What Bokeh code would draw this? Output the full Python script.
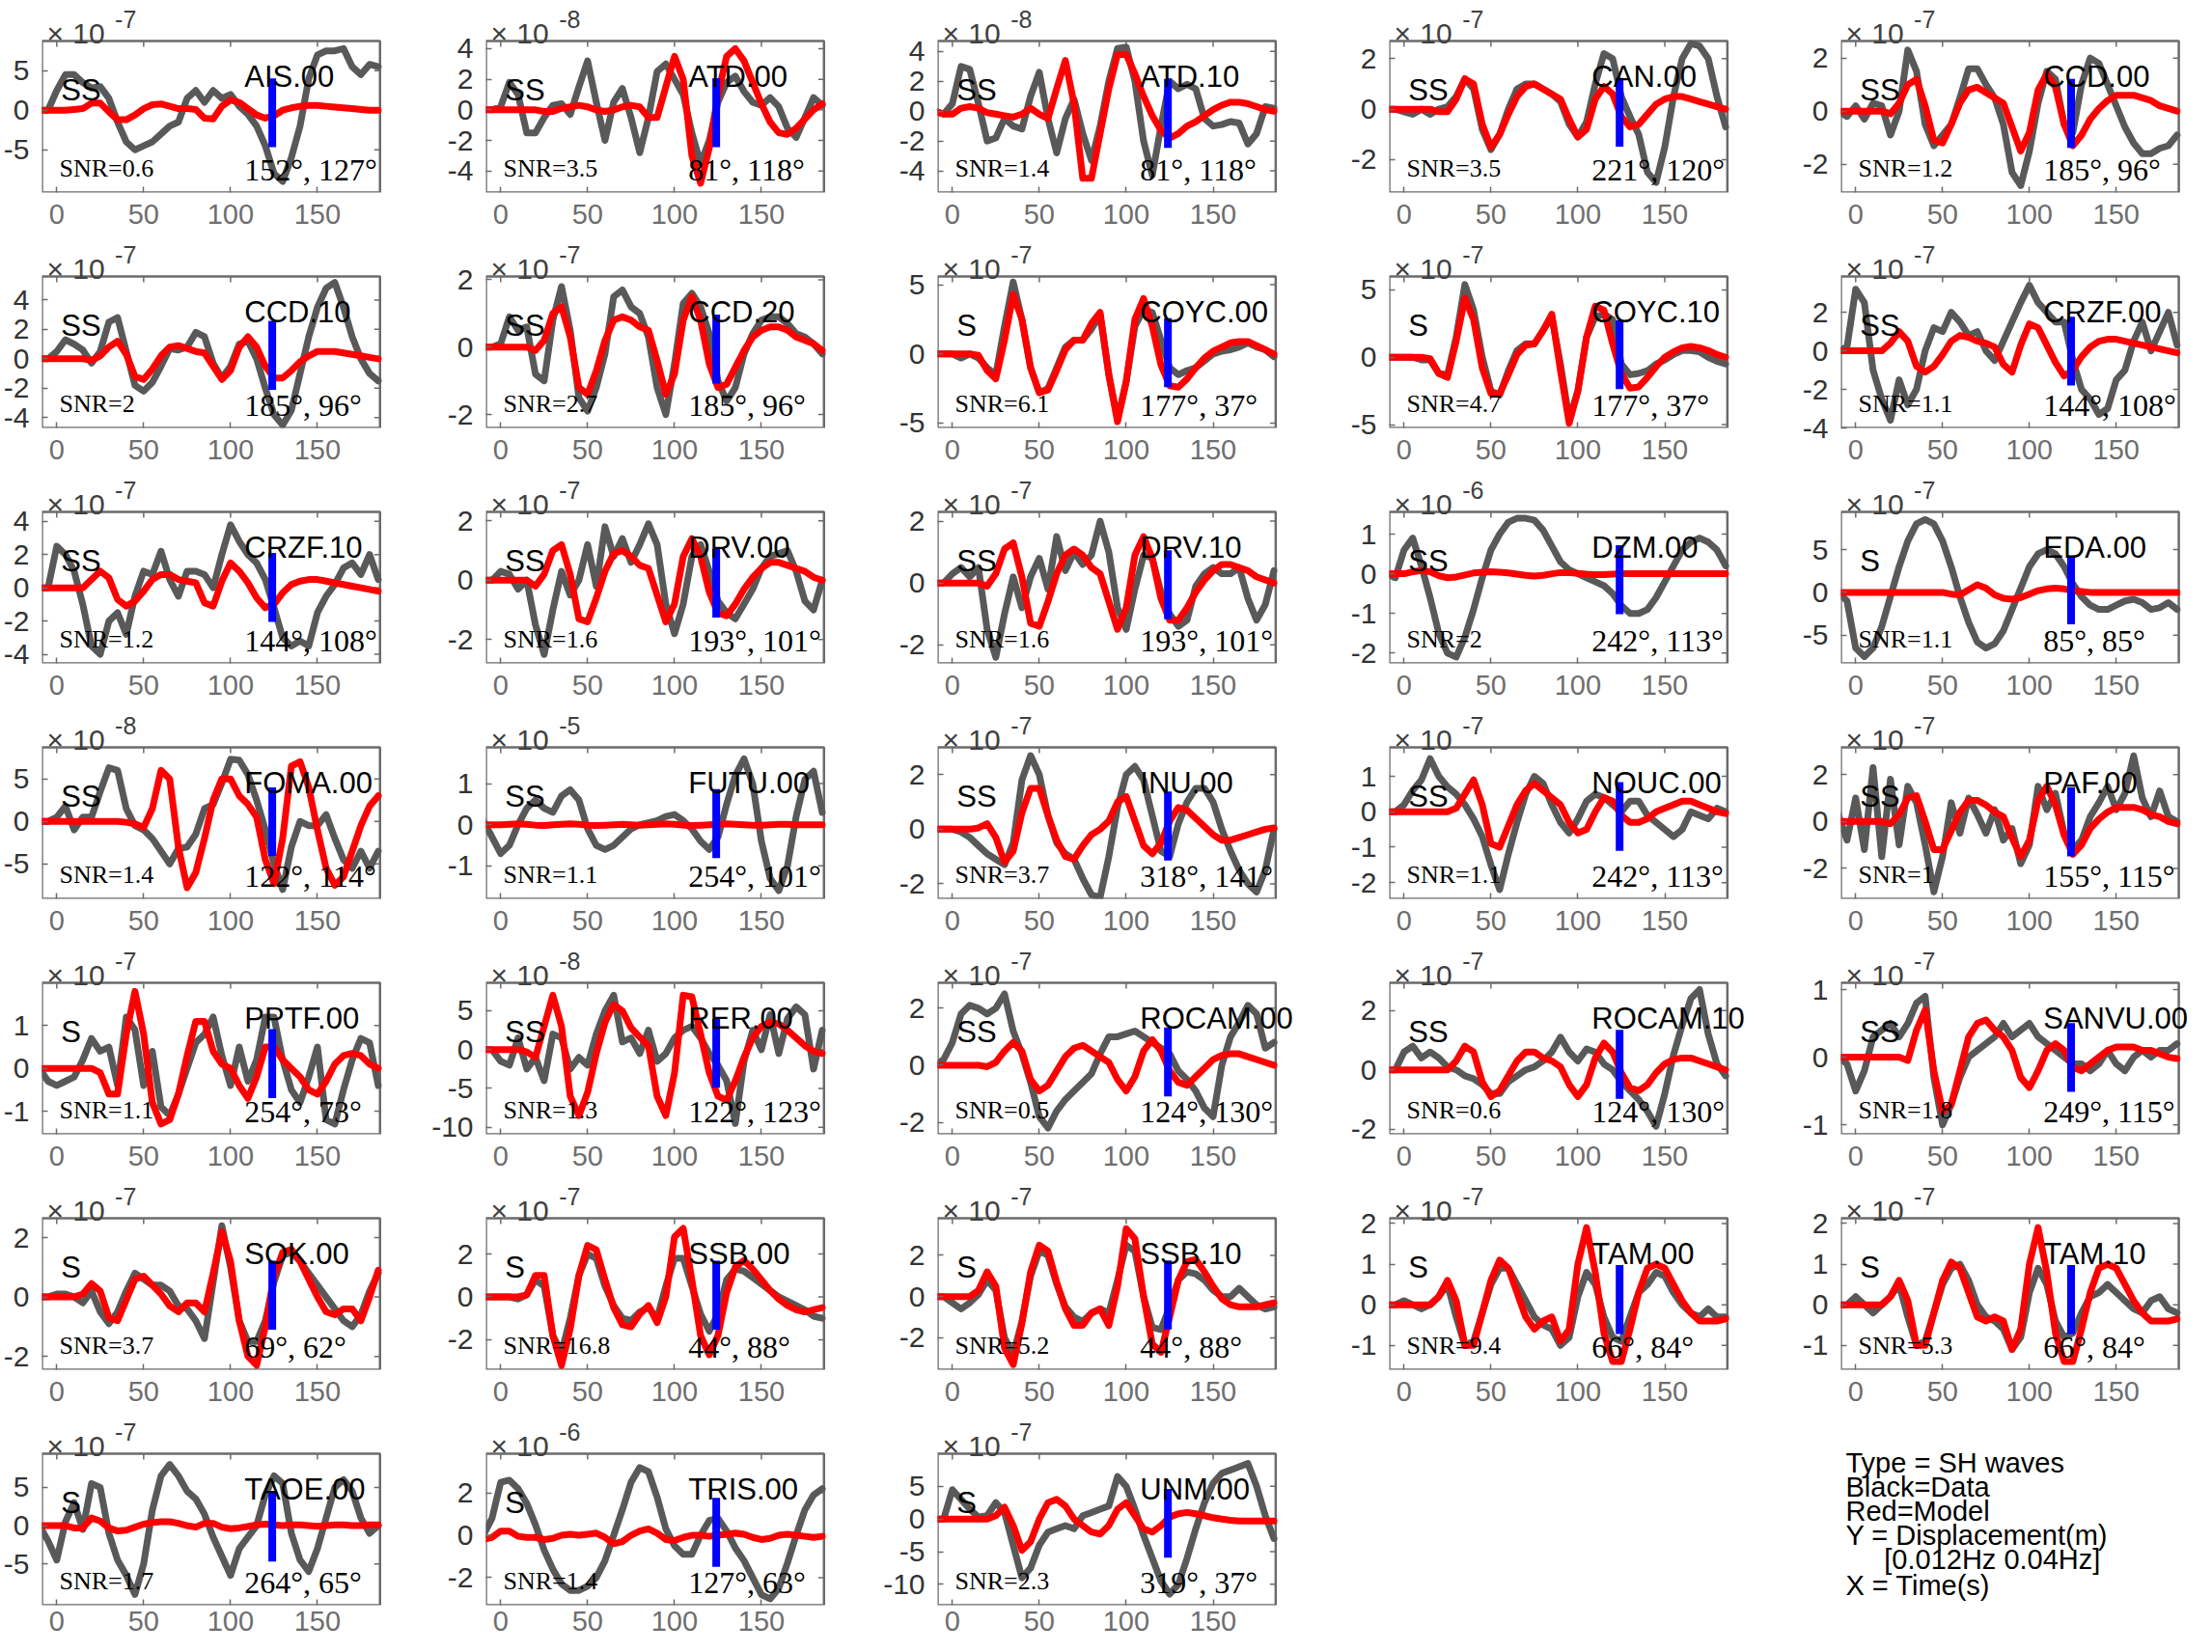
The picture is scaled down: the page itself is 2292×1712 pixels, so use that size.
from bokeh.plotting import figure
from bokeh.layouts import gridplot
from bokeh.models import Range1d, FixedTicker, Label, CustomJSTickFormatter
from bokeh.embed import file_html
from bokeh.resources import INLINE

# ---------------- data ----------------
t = [-10, -5, 0, 5, 10, 15, 20, 25, 30, 35, 40, 45, 50, 55, 60, 65, 70, 75, 80, 85,
     90, 95, 100, 105, 110, 115, 120, 125, 130, 135, 140, 145, 150, 155, 160, 165, 170, 175, 180, 185]

stations = ["AIS.00", "ATD.00", "ATD.10", "CAN.00", "CCD.00",
            "CCD.10", "CCD.20", "COYC.00", "COYC.10", "CRZF.00",
            "CRZF.10", "DRV.00", "DRV.10", "DZM.00", "EDA.00",
            "FOMA.00", "FUTU.00", "INU.00", "NOUC.00", "PAF.00",
            "PPTF.00", "RER.00", "ROCAM.00", "ROCAM.10", "SANVU.00",
            "SOK.00", "SSB.00", "SSB.10", "TAM.00", "TAM.10",
            "TAOE.00", "TRIS.00", "UNM.00"]
phases = ["SS", "SS", "SS", "SS", "SS",
          "SS", "SS", "S", "S", "SS",
          "SS", "SS", "SS", "SS", "S",
          "SS", "SS", "SS", "SS", "SS",
          "S", "SS", "SS", "SS", "SS",
          "S", "S", "S", "S", "S",
          "S", "S", "S"]
exponents = [-7, -8, -8, -7, -7,
             -7, -7, -7, -7, -7,
             -7, -7, -7, -6, -7,
             -8, -5, -7, -7, -7,
             -7, -8, -7, -7, -7,
             -7, -7, -7, -7, -7,
             -7, -6, -7]
snr = ["0.6", "3.5", "1.4", "3.5", "1.2",
       "2", "2.7", "6.1", "4.7", "1.1",
       "1.2", "1.6", "1.6", "2", "1.1",
       "1.4", "1.1", "3.7", "1.1", "1",
       "1.1", "1.3", "0.5", "0.6", "1.8",
       "3.7", "16.8", "5.2", "9.4", "5.3",
       "1.7", "1.4", "2.3"]
azimuth = [152, 81, 81, 221, 185, 185, 185, 177, 177, 144, 144, 193, 193, 242, 85, 122, 254,
           318, 242, 155, 254, 122, 124, 124, 249, 69, 44, 44, 66, 66, 264, 127, 319]
takeoff = [127, 118, 118, 120, 96, 96, 96, 37, 37, 108, 108, 101, 101, 113, 85, 114, 101,
           141, 113, 115, 73, 123, 130, 130, 115, 62, 88, 88, 84, 84, 65, 63, 37]
marker_t = [124] * 33
ylims = [(-10.4, 8.75), (-5.4, 4.5), (-5.45, 4.7), (-3.3, 2.7), (-3.06, 2.64),
         (-4.7, 5.6), (-2.4, 2.1), (-5.35, 5.6), (-5.25, 6.0), (-4.0, 3.86),
         (-4.55, 4.57), (-2.8, 2.3), (-2.6, 2.3), (-2.26, 1.56), (-8.3, 9.4),
         (-9.1, 8.7), (-1.8, 1.88), (-2.55, 3.0), (-2.46, 1.82), (-3.3, 3.16),
         (-1.54, 2.0), (-10.9, 8.6), (-2.42, 2.89), (-2.17, 2.93), (-1.14, 1.1),
         (-2.45, 2.65), (-3.4, 3.67), (-3.55, 3.8), (-1.6, 2.13), (-1.6, 2.13),
         (-10.4, 9.4), (-3.3, 3.85), (-13.2, 10.0)]
yticks = [[-5, 0, 5], [-4, -2, 0, 2, 4], [-4, -2, 0, 2, 4], [-2, 0, 2], [-2, 0, 2],
          [-4, -2, 0, 2, 4], [-2, 0, 2], [-5, 0, 5], [-5, 0, 5], [-4, -2, 0, 2],
          [-4, -2, 0, 2, 4], [-2, 0, 2], [-2, 0, 2], [-2, -1, 0, 1], [-5, 0, 5],
          [-5, 0, 5], [-1, 0, 1], [-2, 0, 2], [-2, -1, 0, 1], [-2, 0, 2],
          [-1, 0, 1], [-10, -5, 0, 5], [-2, 0, 2], [-2, 0, 2], [-1, 0, 1],
          [-2, 0, 2], [-2, 0, 2], [-2, 0, 2], [-1, 0, 1, 2], [-1, 0, 1, 2],
          [-5, 0, 5], [-2, 0, 2], [-10, -5, 0, 5]]
xticks = [0, 50, 100, 150]

AIS_00_data = [0, 0, 2.5, 4.5, 4.5, 3.5, 2.8, 3, 1.5, -1.5, -4, -5, -4.5, -4, -3, -2, -1.5, 1.5, 2.5, 1, 2.5, 1.5, 2, 0.5, -0.5, -2, -4.5, -8, -9, -6, -2, 4, 7, 7.5, 7.5, 7.8, 5.5, 4.5, 5.8, 5.5]
AIS_00_model = [0, 0, 0, 0, 0.1, 0.2, 0.9, 0.9, -0.2, -1.2, -1.2, -0.6, 0.2, 0.7, 0.8, 0.5, 0.2, 0.2, 0.1, -1.0, -1.1, 0.5, 1.3, 1.0, 0.2, -0.6, -1.0, -0.7, 0.0, 0.3, 0.5, 0.6, 0.6, 0.5, 0.4, 0.3, 0.2, 0.1, 0.0, 0.0]
ATD_00_data = [0, 0, 0.2, 1.8, 1.0, -1.5, -1.5, -0.5, 0.3, 0.4, -0.3, 1.5, 3.2, 0.5, -2.0, 0.5, 1.4, -0.5, -2.8, -0.5, 2.5, 3.0, 2.0, 1.0, -1.5, -3.5, -2.0, 0.5, 1.8, 2.2, 1.2, 0.5, 0.3, 0.8, 0.2, -1.2, -1.8, -0.5, 0.8, 0.3]
ATD_00_model = [0, 0, 0, 0, 0, 0, 0, -0.1, -0.1, 0.1, 0.2, 0.3, 0.2, 0, -0.1, 0, 0.2, 0.3, 0.2, -0.5, -0.5, 1.5, 3.5, 2.0, -3.0, -4.8, -2.5, 1.0, 3.5, 4.0, 3.2, 1.8, 0.4, -0.8, -1.5, -1.6, -1.2, -0.6, 0.0, 0.4]
ATD_10_data = [0, -0.2, 0.5, 3.0, 2.8, 0.5, -2.0, -1.8, -0.5, -1.0, -1.2, 1.0, 2.6, -0.5, -2.8, -0.5, 0.8, -1.5, -3.3, -1.0, 2.0, 4.2, 4.3, 2.0, -2.0, -4.3, -1.0, 2.0, 1.5, 1.8, 1.5, -0.5, -1.0, -0.9, -0.7, -0.8, -2.2, -1.5, 0.3, 0.2]
ATD_10_model = [0, -0.2, -0.2, 0.2, 0.3, 0.2, -0.1, -0.2, -0.3, -0.4, -0.2, 0.2, -0.2, -0.5, 1.5, 3.4, 0.5, -4.5, -4.5, -1.5, 1.5, 3.8, 3.8, 2.5, 1.0, -0.3, -1.3, -1.8, -1.5, -1.0, -0.7, -0.3, 0.1, 0.4, 0.6, 0.6, 0.5, 0.3, 0.1, 0.0]
CAN_00_data = [0, 0, -0.1, -0.2, 0, -0.2, 0, 0.1, 0.5, 1.2, 0.8, -0.8, -1.6, -1.0, 0, 0.8, 1.0, 1.0, 0.8, 0.6, 0.3, -0.6, -1.1, -0.5, 1.0, 2.2, 2.0, 0.5, -0.3, -1.0, -2.5, -2.9, -1.5, 0.5, 2.0, 2.6, 2.5, 2.0, 0.5, -0.7]
CAN_00_model = [0, 0, 0, 0, 0, 0, -0.1, -0.1, 0.4, 1.2, 1.0, -0.6, -1.5, -1.0, -0.2, 0.5, 0.9, 1.0, 0.8, 0.6, 0.4, -0.4, -1.1, -0.8, 0.4, 0.9, 0.6, -0.3, -0.7, -0.6, -0.2, 0.2, 0.4, 0.5, 0.5, 0.4, 0.3, 0.2, 0.1, 0.0]
CCD_00_data = [0, -0.2, 0.2, -0.3, 0.3, 0.2, -0.9, 0.0, 2.3, 1.5, -0.5, -1.3, -0.9, -0.5, 0.5, 1.6, 1.6, 1.0, 0.5, -0.5, -2.3, -2.8, -1.5, 0.3, 1.5, 1.2, -0.5, -0.8, 1.0, 2.0, 1.8, 1.0, 0.2, -0.6, -1.2, -1.6, -1.6, -1.4, -1.3, -0.9]
CCD_00_model = [0, 0, 0, 0, 0, 0, -0.1, 0.3, 1.0, 1.2, 0.2, -1.1, -1.2, -0.5, 0.3, 0.8, 0.9, 0.7, 0.5, 0.3, -0.6, -1.5, -0.8, 0.8, 1.4, 0.9, -0.5, -1.3, -0.9, -0.3, 0.1, 0.4, 0.6, 0.6, 0.6, 0.5, 0.4, 0.2, 0.1, 0.0]
CCD_10_data = [0, 0, 0.5, 1.3, 1.0, 0.6, -0.3, 0.5, 2.5, 2.8, 0.5, -1.8, -2.2, -1.6, -0.5, 0.7, 0.6, 0.8, 1.8, 1.5, -0.3, -1.3, -0.5, 1.0, 1.2, 0.0, -2.0, -3.8, -4.5, -3.5, -1.0, 1.5, 3.5, 4.8, 5.2, 3.5, 1.5, 0.0, -1.0, -1.5]
CCD_10_model = [0, 0, 0, 0, 0, 0, -0.1, 0.2, 0.8, 1.2, 0.3, -1.2, -1.4, -0.7, 0.2, 0.8, 0.9, 0.7, 0.5, 0.4, -0.5, -1.4, -0.8, 0.8, 1.5, 0.8, -0.5, -1.3, -1.3, -0.8, -0.2, 0.2, 0.5, 0.5, 0.5, 0.4, 0.3, 0.2, 0.1, 0.0]
CCD_20_data = [0, 0, 0.1, 0.9, 0.5, 0.6, -0.8, -1.0, 0.8, 1.8, 0.5, -1.5, -1.9, -1.2, -0.2, 1.5, 1.7, 1.2, 1.0, 0.3, -1.2, -2.0, -0.5, 1.3, 1.6, 1.2, 0.4, -1.0, -1.6, -1.2, -0.2, 0.4, 0.8, 0.9, 0.9, 0.7, 0.4, 0.3, 0.1, -0.2]
CCD_20_model = [0, 0, 0, 0, 0, 0, -0.1, 0.2, 1.0, 1.2, 0.3, -1.2, -1.4, -0.7, 0.2, 0.8, 0.9, 0.8, 0.6, 0.5, -0.4, -1.4, -0.8, 0.8, 1.5, 0.8, -0.5, -1.2, -1.1, -0.6, -0.1, 0.3, 0.5, 0.6, 0.6, 0.5, 0.3, 0.2, 0.1, -0.1]
COYC_00_data = [0, 0, 0, -0.3, 0, -0.3, -1.0, -1.5, 2.0, 5.2, 2.5, -1.0, -2.8, -2.5, -1.0, 0.5, 1.0, 1.0, 1.8, 2.8, -1.5, -4.7, -2.0, 2.0, 3.2, 3.0, 1.0, -1.0, -1.5, -1.2, -1.0, -0.5, 0.0, 0.2, 0.3, 0.5, 0.8, 0.5, 0.3, -0.2]
COYC_00_model = [0, 0, 0, 0, 0, -0.1, -1.2, -1.8, 1.0, 4.3, 2.5, -1.0, -2.8, -2.6, -1.2, 0.3, 1.0, 1.0, 2.2, 3.0, -1.5, -4.9, -2.0, 2.5, 4.0, 2.0, -0.8, -2.3, -2.4, -1.8, -1.0, -0.3, 0.2, 0.5, 0.8, 0.9, 0.9, 0.6, 0.3, 0.0]
COYC_10_data = [0, 0, 0, 0, -0.2, -0.2, -1.2, -1.3, 1.5, 5.4, 3.5, 0.0, -2.5, -2.8, -1.0, 0.5, 1.0, 1.0, 2.0, 3.0, -0.5, -4.6, -2.5, 1.5, 3.0, 3.2, 2.8, -0.5, -1.3, -1.2, -1.0, -0.5, -0.2, 0.2, 0.5, 0.5, 0.4, 0.0, -0.3, -0.5]
COYC_10_model = [0, 0, 0, 0, 0, -0.1, -1.2, -1.5, 1.2, 4.4, 2.8, -0.8, -2.7, -2.7, -1.3, 0.2, 0.9, 1.0, 2.0, 3.2, -1.0, -4.9, -2.5, 1.5, 3.8, 3.5, 1.0, -1.2, -2.3, -2.2, -1.5, -0.7, 0.0, 0.4, 0.7, 0.8, 0.7, 0.5, 0.2, 0.0]
CRZF_00_data = [0, 0.2, 3.2, 2.5, -1.0, -2.5, -3.6, -1.5, -2.8, -2.0, 0.0, 1.2, 1.0, 2.0, 1.5, 0.8, 1.0, 0.0, -0.5, 0.5, 1.5, 2.5, 3.4, 2.5, 2.0, 1.5, 1.5, -0.5, -2.0, -2.5, -3.3, -3.0, -1.5, -1.0, 0.5, 1.5, 0.0, 1.0, 2.0, 0.3]
CRZF_00_model = [0, 0, 0, 0, 0, 0, 0.4, 1.0, 0.5, -0.8, -1.1, -0.8, -0.2, 0.5, 0.8, 0.7, 0.5, 0.4, 0.2, -0.7, -1.1, 0.3, 1.4, 1.2, 0.3, -0.6, -1.3, -1.0, -0.3, 0.2, 0.5, 0.6, 0.6, 0.5, 0.4, 0.3, 0.2, 0.1, 0.0, -0.1]
CRZF_10_data = [0, 0, 2.5, 2.0, 1.0, -1.0, -3.5, -4.0, -2.0, -1.5, -2.8, -0.5, 1.0, 0.8, 2.2, 0.5, -0.5, 1.0, 1.0, 0.8, 0.0, 2.0, 3.8, 2.8, 2.0, 1.5, 0.5, -1.2, -3.0, -3.5, -3.2, -3.5, -1.5, -0.5, 0.2, 1.2, 1.5, 0.8, 2.0, 0.5]
CRZF_10_model = [0, 0, 0, 0, 0, 0, 0.5, 1.0, 0.6, -0.7, -1.1, -0.8, -0.2, 0.5, 0.8, 0.8, 0.5, 0.4, 0.3, -0.9, -1.1, 0.4, 1.5, 1.0, 0.3, -0.6, -1.2, -1.0, -0.3, 0.2, 0.4, 0.5, 0.5, 0.4, 0.3, 0.2, 0.1, 0.0, -0.1, -0.2]
DRV_00_data = [0, 0, 0.3, 0.2, -0.3, 0.0, -1.5, -2.5, -1.0, 0.3, -0.5, 0.0, 1.2, -0.2, 1.8, 0.8, 1.4, 0.6, 1.2, 1.9, 1.2, -0.8, -1.8, -0.8, 0.8, 1.2, 0.3, -0.7, -1.1, -1.3, -0.8, -0.3, 0.4, 0.8, 0.9, 1.0, 0.3, -0.7, -1.0, 0.0]
DRV_00_model = [0, 0, 0, 0, 0, 0, -0.2, 0.2, 1.0, 1.2, 0.2, -1.3, -1.4, -0.6, 0.3, 0.9, 1.0, 0.8, 0.5, 0.4, -0.5, -1.4, -0.8, 0.8, 1.4, 0.8, -0.4, -1.1, -1.2, -0.8, -0.3, 0.1, 0.4, 0.6, 0.6, 0.5, 0.4, 0.3, 0.1, 0.0]
DRV_10_data = [0, 0, 0.3, 0.5, 0.2, 0.5, -1.5, -2.4, -1.0, 0.2, -0.8, 0.2, 0.8, -0.2, 1.5, 0.4, 1.0, 0.6, 0.9, 2.0, 1.0, -0.8, -1.5, -0.2, 0.9, 0.8, -0.3, -1.0, -1.4, -1.2, -0.1, 0.3, 0.5, 0.3, 0.3, 0.5, -0.5, -1.2, -0.7, 0.4]
DRV_10_model = [0, 0, 0, 0, 0, 0, -0.1, 0.3, 1.1, 1.3, 0.2, -1.3, -1.4, -0.6, 0.3, 0.9, 1.1, 0.9, 0.5, 0.3, -0.6, -1.5, -0.8, 0.9, 1.5, 0.8, -0.5, -1.2, -1.2, -0.8, -0.3, 0.1, 0.4, 0.6, 0.6, 0.5, 0.4, 0.2, 0.1, 0.0]
DZM_00_data = [0, -0.1, 0.6, 0.9, 0.2, -0.6, -1.5, -2.0, -2.1, -1.6, -0.9, -0.1, 0.6, 1.0, 1.3, 1.4, 1.4, 1.35, 1.1, 0.7, 0.3, 0.1, 0.0, -0.1, -0.2, -0.3, -0.5, -0.8, -1.0, -1.0, -0.9, -0.6, -0.2, 0.2, 0.6, 0.8, 0.9, 0.8, 0.6, 0.2]
DZM_00_model = [0, 0, 0, 0.05, 0.08, 0.05, -0.05, -0.1, -0.08, -0.03, 0.02, 0.04, 0.05, 0.04, 0.02, -0.01, -0.04, -0.06, -0.04, 0.0, 0.03, 0.03, 0.01, -0.01, -0.02, -0.02, -0.01, 0, 0, 0, 0, 0, 0, 0, 0, 0, 0, 0, 0, 0]
EDA_00_data = [0, -1.0, -6.5, -7.5, -6.5, -4.0, -0.5, 3.0, 6.0, 8.0, 8.5, 8.0, 6.0, 3.0, -0.5, -3.5, -5.8, -6.5, -6.0, -4.5, -2.0, 0.5, 3.0, 4.5, 5.0, 4.5, 3.0, 1.0, -0.5, -1.5, -2.0, -2.0, -1.5, -1.0, -0.8, -1.2, -2.0, -1.8, -1.2, -2.0]
EDA_00_model = [0, 0, 0, 0, 0, 0, 0, 0, 0, 0, 0, 0, 0, -0.2, -0.3, 0.3, 0.9, 0.5, -0.3, -0.7, -0.8, -0.6, -0.2, 0.2, 0.4, 0.5, 0.4, 0.2, 0.1, 0, 0, 0, 0, 0, 0, 0, 0, 0, 0, 0]
FOMA_00_data = [0, 0, 0.5, 1.8, -1.0, 0.5, 0.5, 3.5, 6.3, 6.0, 1.5, -0.5, -1.0, -2.0, -3.5, -5.0, -3.2, -3.0, -1.5, 1.5, 2.0, 4.5, 7.3, 7.2, 5.5, 2.5, -1.0, -5.0, -8.0, -3.0, 0.0, -0.5, -0.5, 0.8, -2.0, -4.5, -5.5, -3.5, -5.5, -3.5]
FOMA_00_model = [0, 0, 0, 0, 0, 0, 0, 0, 0, 0, -0.1, -0.3, -0.7, 1.5, 6.0, 5.0, -3.0, -7.8, -6.0, -2.0, 2.5, 5.0, 5.0, 3.0, 2.0, 0.5, -4.5, -7.3, -2.0, 6.5, 7.0, 4.0, -1.0, -5.5, -7.5, -6.5, -3.5, -0.5, 1.8, 3.0]
FUTU_00_data = [0.1, -0.3, -0.7, -0.5, 0.0, 0.4, 0.6, 0.4, 0.3, 0.7, 0.85, 0.6, -0.1, -0.5, -0.6, -0.5, -0.3, -0.1, 0.0, 0.05, 0.1, 0.2, 0.25, 0.1, -0.1, -0.4, -0.6, -0.3, 0.5, 1.2, 1.6, 1.0, -0.4, -1.3, -1.6, -1.0, 0.2, 1.1, 1.3, 0.3]
FUTU_00_model = [0, 0, 0, 0.01, 0.02, 0.01, -0.01, -0.02, 0, 0.01, 0.02, 0.01, -0.01, -0.02, -0.01, 0, 0.01, 0, -0.01, 0, 0.01, 0.02, 0.01, -0.01, -0.02, -0.01, 0, 0.01, 0.02, 0.01, 0, -0.01, -0.01, 0, 0.01, 0.01, 0, 0, 0, 0]
INU_00_data = [0, 0, 0, -0.1, -0.3, -0.6, -0.9, -1.1, -1.3, -0.5, 1.8, 2.7, 2.0, 0.5, -0.5, -0.9, -1.1, -1.8, -2.4, -2.5, -1.0, 0.8, 2.0, 2.3, 1.8, 0.5, -0.8, -1.0, 0.2, 1.0, 1.5, 1.5, 1.0, 0.0, -0.8, -1.5, -2.0, -2.3, -1.5, 0.0]
INU_00_model = [0, 0, 0, 0, 0, 0.05, 0.2, -0.3, -1.2, -0.8, 0.6, 1.5, 1.5, 0.5, -0.4, -1.0, -1.1, -0.6, -0.2, 0.0, 0.3, 1.0, 1.2, 0.3, -0.6, -0.9, -0.5, 0.3, 0.8, 0.7, 0.4, 0.1, -0.2, -0.4, -0.4, -0.3, -0.2, -0.1, 0.0, 0.05]
NOUC_00_data = [0, 0, 0.2, 0.6, 0.9, 1.5, 1.0, 0.7, 0.5, 0.2, -0.2, -0.7, -1.5, -2.2, -1.2, -0.3, 0.5, 1.0, 0.8, 0.2, -0.3, -0.6, -0.2, 0.3, 0.5, 0.4, 0.2, 0.0, 0.3, 0.3, -0.1, -0.3, -0.5, -0.7, -0.5, 0.0, -0.1, -0.2, 0.1, 0.0]
NOUC_00_model = [0, 0, 0, 0, 0, 0, 0, 0, 0.1, 0.5, 0.9, 0.2, -0.9, -1.0, -0.4, 0.2, 0.6, 0.8, 0.6, 0.4, 0.2, -0.3, -0.6, -0.5, 0.0, 0.4, 0.3, -0.1, -0.3, -0.3, -0.2, 0.0, 0.1, 0.2, 0.3, 0.3, 0.2, 0.1, 0.0, -0.05]
PAF_00_data = [0.3, -0.8, 1.0, -1.2, 2.3, -1.5, 1.8, -1.0, 1.5, 0.8, -1.0, -3.0, -1.5, 0.8, -0.5, 1.0, 0.3, -0.5, 0.5, -0.8, -0.3, -1.8, -1.0, 1.5, 0.5, 1.2, -0.5, -1.2, -0.8, 0.2, 0.8, 1.5, 0.5, 1.2, 2.8, 1.0, 0.2, 1.3, 0.2, 0.0]
PAF_00_model = [0, 0, 0, 0, 0, 0, -0.1, 0.3, 1.0, 1.1, 0.0, -1.2, -1.2, -0.4, 0.4, 0.9, 0.9, 0.7, 0.4, 0.2, -0.7, -1.5, -0.8, 0.9, 1.5, 0.7, -0.6, -1.4, -1.0, -0.3, 0.1, 0.4, 0.6, 0.6, 0.6, 0.5, 0.3, 0.2, 0.0, -0.1]
PPTF_00_data = [0, -0.3, -0.4, -0.3, -0.2, 0.2, 0.7, 0.4, 0.5, -0.4, 1.2, 0.9, -0.4, 0.4, -0.9, -1.1, -0.6, 0.0, 0.6, 0.8, 1.2, 0.3, -0.4, 0.5, -0.3, 0.2, 1.2, 1.2, 0.2, -0.5, -0.8, -0.2, 0.5, -1.2, -1.3, -0.5, 0.2, 0.7, 0.6, -0.4]
PPTF_00_model = [0, 0, 0, 0, 0, 0, 0, -0.1, -0.6, -0.6, 0.8, 1.8, 0.8, -0.8, -1.3, -1.2, -0.6, 0.3, 1.1, 1.1, 0.4, 0.1, 0.0, -0.4, -0.7, -0.2, 0.5, 0.5, 0.2, 0.0, -0.2, -0.5, -0.6, -0.3, 0.1, 0.3, 0.35, 0.3, 0.1, 0.0]
RER_00_data = [0, 0, -1.5, -2.0, 1.5, -2.5, -1.0, -4.0, 2.0, 1.5, -2.5, -1.0, -2.0, 2.0, 5.0, 7.0, 1.0, 1.5, -0.5, 2.5, -1.5, -0.5, 1.5, 2.5, 3.0, 1.5, -0.5, -2.0, -4.0, -9.5, -1.5, 2.5, 0.0, 4.5, -0.5, 4.0, 5.5, 4.5, -2.5, 2.5]
RER_00_model = [0, 0, 0, 0, 0, -0.3, -1.0, 3.0, 7.0, 3.0, -6.0, -8.5, -5.5, -0.5, 3.5, 5.8, 5.0, 2.8, 1.6, 0.5, -6.0, -8.5, -3.0, 7.0, 6.8, 2.0, -3.0, -6.0, -6.5, -4.0, -1.0, 1.5, 3.0, 3.5, 3.3, 2.5, 1.5, 0.5, -0.2, -0.5]
ROCAM_00_data = [0, 0.2, 0.8, 1.8, 2.1, 2.0, 1.8, 2.0, 2.5, 1.2, 0.4, -0.6, -1.8, -2.2, -1.6, -1.2, -0.9, -0.6, -0.3, 0.4, 1.0, 1.0, 1.1, 1.2, 1.0, 0.8, 0.6, 0.4, -0.2, -0.5, -0.9, -1.5, -1.8, 0.0, 1.0, 1.5, 2.1, 1.8, 0.6, 0.8]
ROCAM_00_model = [0, 0, 0, 0, 0, 0, -0.05, 0.1, 0.5, 0.8, 0.5, -0.5, -0.9, -0.7, -0.2, 0.3, 0.6, 0.7, 0.5, 0.3, 0.1, -0.5, -0.9, -0.4, 0.5, 0.9, 0.5, -0.2, -0.6, -0.7, -0.4, -0.1, 0.2, 0.35, 0.4, 0.4, 0.3, 0.2, 0.1, 0.0]
ROCAM_10_data = [0, 0, 0.6, 0.8, 0.4, 0.6, 0.4, 0.1, 0.0, -0.2, -0.3, -0.5, -0.8, -0.8, -0.4, -0.2, 0.0, 0.1, 0.3, 0.6, 1.1, 0.6, 0.3, 0.7, 0.6, 0.2, 0.0, -0.4, -0.7, -1.0, -1.4, -1.9, -0.8, 0.5, 1.5, 2.4, 2.7, 1.2, 0.2, -0.2]
ROCAM_10_model = [0, 0, 0, 0, 0, 0, 0, 0.0, 0.3, 0.8, 0.6, -0.4, -0.9, -0.7, -0.2, 0.3, 0.6, 0.6, 0.4, 0.3, 0.1, -0.5, -0.9, -0.5, 0.4, 0.9, 0.6, -0.1, -0.6, -0.7, -0.5, -0.1, 0.2, 0.35, 0.4, 0.4, 0.3, 0.2, 0.1, 0.0]
SANVU_00_data = [0, -0.1, -0.5, -0.2, 0.3, 0.4, 0.5, 0.3, 0.5, 0.8, 0.9, -0.3, -1.0, -0.7, -0.3, 0.0, 0.1, 0.2, 0.3, 0.5, 0.3, 0.4, 0.5, 0.3, 0.2, 0.1, 0.0, -0.1, -0.1, -0.2, -0.1, 0.1, -0.1, -0.2, 0.0, 0.1, 0.0, 0.1, 0.1, 0.2]
SANVU_00_model = [0, 0, 0, 0, 0, 0, 0, 0, -0.05, 0.4, 0.7, -0.2, -0.8, -0.7, -0.2, 0.3, 0.5, 0.55, 0.4, 0.3, 0.1, -0.3, -0.45, -0.2, 0.1, 0.2, 0.1, -0.15, -0.2, -0.1, 0.0, 0.1, 0.15, 0.15, 0.15, 0.1, 0.1, 0.05, 0.0, -0.02]
SOK_00_data = [0, 0, 0.1, 0.1, 0.0, -0.2, 0.2, -0.5, -0.9, -0.5, 0.2, 0.8, 0.6, 0.4, 0.4, 0.2, -0.3, -0.4, -0.8, -1.4, 0.5, 2.4, 1.0, -0.8, -1.5, -1.5, -0.8, 0.5, 1.4, 1.5, 1.2, 0.8, 0.4, 0.0, -0.4, -0.8, -1.0, -0.6, 0.2, 0.8]
SOK_00_model = [0, 0, 0, 0, 0, 0.1, 0.45, 0.2, -0.7, -0.8, -0.1, 0.6, 0.7, 0.4, 0.1, -0.3, -0.5, -0.2, -0.2, -0.5, 0.8, 2.2, 1.2, -0.8, -2.0, -2.3, -1.0, 0.7, 1.5, 1.6, 1.2, 0.6, 0.0, -0.5, -0.6, -0.4, -0.4, -0.8, 0.0, 0.9]
SSB_00_data = [0, 0, 0, 0, -0.1, 0.1, 0.8, 0.5, -1.8, -2.6, -1.0, 1.0, 2.0, 1.8, 0.5, -0.4, -1.0, -1.1, -0.7, -0.5, -1.0, 0.5, 1.8, 1.8, 0.5, -0.8, -1.6, -0.8, 0.8, 1.3, 1.2, 0.9, 0.6, 0.3, 0.0, -0.2, -0.4, -0.6, -0.9, -1.0]
SSB_00_model = [0, 0, 0, 0, 0, 0.1, 1.0, 1.0, -1.8, -3.2, -1.5, 1.0, 2.4, 2.2, 0.8, -0.5, -1.3, -1.4, -0.8, -0.4, -1.2, 0.0, 2.8, 3.2, 0.8, -1.8, -2.7, -1.8, 0.2, 1.4, 1.7, 1.3, 0.8, 0.3, -0.1, -0.4, -0.6, -0.7, -0.6, -0.5]
SSB_10_data = [0, 0, -0.3, -0.6, -0.3, 0.1, 0.8, 0.3, -2.0, -2.8, -1.2, 1.0, 2.2, 2.0, 0.6, -0.5, -1.0, -1.2, -0.8, -0.6, -0.8, 0.8, 2.5, 2.2, 0.0, -1.5, -1.6, -0.5, 0.8, 1.2, 1.1, 0.8, 0.3, 0.0, 0.0, 0.4, 0.0, -0.4, -0.6, -0.5]
SSB_10_model = [0, 0, 0, 0, 0, 0.3, 1.2, 0.5, -2.5, -3.3, -1.3, 1.2, 2.5, 2.2, 0.7, -0.6, -1.4, -1.4, -0.8, -0.6, -1.4, 0.5, 3.3, 2.8, 0.0, -2.3, -2.7, -1.0, 0.8, 1.7, 1.8, 1.2, 0.5, -0.1, -0.4, -0.5, -0.5, -0.5, -0.4, -0.3]
TAM_00_data = [0, 0, 0.1, 0.0, -0.1, 0.0, 0.2, 0.5, -0.3, -1.0, -0.9, -0.2, 0.5, 0.9, 0.9, 0.5, 0.1, -0.3, -0.5, -0.6, -1.0, -0.8, 0.2, 0.8, 0.5, -0.3, -0.8, -0.9, -0.3, 0.3, 0.5, 0.8, 0.7, 0.3, 0.0, -0.2, -0.3, -0.1, -0.3, -0.3]
TAM_00_model = [0, 0, 0, 0, 0, 0, 0.2, 0.6, 0.1, -1.0, -1.0, -0.2, 0.6, 1.1, 0.9, 0.3, -0.3, -0.6, -0.4, -0.3, -0.9, -0.6, 1.0, 1.9, 0.8, -0.7, -1.4, -1.4, -0.6, 0.3, 0.9, 1.0, 0.9, 0.5, 0.1, -0.2, -0.4, -0.4, -0.4, -0.35]
TAM_10_data = [0, 0, 0.2, 0.0, -0.2, 0.0, 0.2, 0.5, -0.3, -1.0, -0.9, -0.2, 0.5, 0.9, 1.0, 0.6, 0.0, -0.3, -0.4, -0.6, -1.1, -0.8, 0.3, 0.9, 0.5, -0.4, -0.8, -0.7, -0.2, 0.2, 0.3, 0.5, 0.3, 0.1, -0.1, -0.2, 0.1, 0.2, -0.1, -0.2]
TAM_10_model = [0, 0, 0, 0, 0, 0, 0.2, 0.6, 0.1, -1.0, -1.0, -0.2, 0.6, 1.05, 0.9, 0.3, -0.3, -0.4, -0.3, -0.4, -1.1, -0.6, 1.0, 1.9, 0.8, -0.7, -1.4, -1.4, -0.6, 0.3, 0.9, 1.0, 0.9, 0.5, 0.1, -0.2, -0.4, -0.4, -0.4, -0.35]
TAOE_00_data = [0, -2.0, -4.5, 0.5, 3.0, -0.5, 5.5, 5.0, -1.0, -4.5, -6.5, -9.0, -5.0, 2.0, 6.5, 8.0, 6.5, 4.5, 3.5, 1.5, -1.5, -4.0, -6.5, -3.0, -1.5, 0.0, 4.0, 6.5, 5.5, -1.0, -4.5, -6.0, -3.0, 1.0, 5.0, 6.0, 4.5, 1.0, -1.0, 0.0]
TAOE_00_model = [0, 0, 0, 0, -0.3, -0.3, 1.0, 0.6, -0.3, -0.7, -0.6, -0.2, 0.2, 0.4, 0.5, 0.5, 0.3, 0.0, -0.2, 0.3, 0.3, -0.2, -0.4, -0.3, -0.1, 0.1, 0.2, 0.1, 0.0, 0.1, 0.1, 0.0, -0.1, 0.0, 0.1, 0.1, 0.0, 0.0, 0.1, 0.1]
TRIS_00_data = [0.0, 0.8, 2.5, 2.6, 2.2, 1.5, 0.5, -0.7, -1.6, -2.3, -2.6, -2.6, -2.4, -2.0, -1.2, 0.0, 1.2, 2.5, 3.2, 3.0, 1.8, 0.3, -0.5, -0.9, -0.9, 0.0, 0.7, 0.8, 0.2, -0.6, -1.2, -2.0, -2.8, -3.0, -2.5, -1.3, 0.0, 1.2, 1.9, 2.2]
TRIS_00_model = [-0.2, -0.1, 0.2, 0.2, -0.05, -0.1, -0.1, -0.2, -0.15, 0.0, 0.05, 0.0, 0.05, 0.1, -0.1, -0.4, -0.3, 0.0, 0.2, 0.3, 0.1, -0.2, -0.25, -0.1, 0.0, 0.0, -0.05, 0.0, 0.05, 0.1, 0.05, -0.1, -0.2, -0.15, 0.0, 0.05, 0.0, -0.05, -0.1, -0.05]
UNM_00_data = [0, 0, 4.5, 3.0, 1.5, 0.3, 0.5, 2.5, 1.0, -4.0, -9.0, -7.5, -4.0, -2.0, -1.5, -1.0, -1.5, 0.5, 1.0, 1.5, 2.0, 6.5, 5.0, 1.5, -2.5, -6.0, -9.5, -11.5, -10.0, -6.0, -1.5, 2.5, 5.5, 7.0, 7.5, 8.0, 8.5, 5.0, 0.5, -3.0]
UNM_00_model = [0, 0, 0, 0, 0, 0, 0, 0.5, 1.8, -1.0, -4.8, -3.5, 0.0, 2.5, 3.0, 2.0, 0.0, -1.0, -2.0, -2.3, -1.0, 1.5, 2.5, 0.5, -1.5, -2.0, -1.0, 0.3, 0.8, 1.0, 0.8, 0.5, 0.2, 0.0, -0.2, -0.3, -0.3, -0.3, -0.3, -0.3]

data_series = [AIS_00_data, ATD_00_data, ATD_10_data, CAN_00_data, CCD_00_data,
               CCD_10_data, CCD_20_data, COYC_00_data, COYC_10_data, CRZF_00_data,
               CRZF_10_data, DRV_00_data, DRV_10_data, DZM_00_data, EDA_00_data,
               FOMA_00_data, FUTU_00_data, INU_00_data, NOUC_00_data, PAF_00_data,
               PPTF_00_data, RER_00_data, ROCAM_00_data, ROCAM_10_data, SANVU_00_data,
               SOK_00_data, SSB_00_data, SSB_10_data, TAM_00_data, TAM_10_data,
               TAOE_00_data, TRIS_00_data, UNM_00_data]
model_series = [AIS_00_model, ATD_00_model, ATD_10_model, CAN_00_model, CCD_00_model,
                CCD_10_model, CCD_20_model, COYC_00_model, COYC_10_model, CRZF_00_model,
                CRZF_10_model, DRV_00_model, DRV_10_model, DZM_00_model, EDA_00_model,
                FOMA_00_model, FUTU_00_model, INU_00_model, NOUC_00_model, PAF_00_model,
                PPTF_00_model, RER_00_model, ROCAM_00_model, ROCAM_10_model, SANVU_00_model,
                SOK_00_model, SSB_00_model, SSB_10_model, TAM_00_model, TAM_10_model,
                TAOE_00_model, TRIS_00_model, UNM_00_model]

legend_lines = ["Type = SH waves", "Black=Data", "Red=Model", "Y = Displacement(m)",
                "[0.012Hz 0.04Hz]", "X = Time(s)"]

for _k in range(33):
    assert len(data_series[_k]) == len(t), (stations[_k], "data", len(data_series[_k]))
    assert len(model_series[_k]) == len(t), (stations[_k], "model", len(model_series[_k]))

# ---------------- style / layout ----------------
GREY = "#595959"
RED = "#ff0000"
BLUE = "#0000ff"
BOX = "#6b6b6b"
SANS = "Liberation Sans"
SERIF = "Liberation Serif"

LEFT = [41, 57, 57, 41, 41]      # room for y tick labels
RIGHT = [51, 59, 75, 75, 19]     # free space right of each box (part of the frame)
TEXR = [42, 41, 41, 41, 41, 41, 41]   # free space above each box (part of the frame)
BW, BH = 352, 157                # axes box size in px
BOTTOM = [46, 46, 46, 46, 46, 46, 39]
XSTAND = [12, 12, 12, 12, 12, 12, 6]
XMIN, XMAX = -8.5, 186.0
DX = (XMAX - XMIN) / BW          # data units per px

hyphen_fmt = "return String(tick)"


def add_label(p, x, y, text, font, size, color="black"):
    p.add_layout(Label(x=x, y=y, text=text, text_font=font, text_font_size=size,
                       text_color=color, text_baseline="alphabetic", text_align="left"))


def make_panel(i):
    r, c = divmod(i, 5)
    y0, y1 = ylims[i]
    yr = y1 - y0
    dy = yr / BH
    fw = BW + RIGHT[c]
    fh = BH + TEXR[r]
    p = figure(width=LEFT[c] + fw, height=fh + BOTTOM[r],
               x_range=Range1d(XMIN, XMIN + fw * DX), y_range=Range1d(y0, y0 + fh * dy),
               output_backend="svg", toolbar_location=None, tools="",
               min_border_left=LEFT[c], min_border_right=0,
               min_border_top=0, min_border_bottom=BOTTOM[r])
    p.grid.visible = False
    p.outline_line_color = None
    p.background_fill_color = "white"
    p.border_fill_color = "white"

    xa, ya = p.xaxis[0], p.yaxis[0]
    xa.ticker = FixedTicker(ticks=xticks)
    ya.ticker = FixedTicker(ticks=yticks[i])
    ya.formatter = CustomJSTickFormatter(code=hyphen_fmt)
    for ax in (xa, ya):
        ax.axis_line_color = None
        ax.major_tick_in = 6
        ax.major_tick_out = 0
        ax.major_tick_line_color = BOX
        ax.major_tick_line_width = 1.5
        ax.minor_tick_line_color = None
        ax.major_label_text_font = SANS
    xa.major_label_text_font_size = "29px"
    xa.major_label_text_color = "#6e6e6e"
    xa.major_label_standoff = XSTAND[r]
    ya.major_label_text_font_size = "30px"
    ya.major_label_text_color = "#333333"
    ya.major_label_standoff = 13

    # axes box and mirrored ticks on top / right
    p.quad(left=[XMIN], right=[XMAX], bottom=[y0], top=[y1],
           fill_color=None, line_color=BOX, line_width=2.5)
    p.segment(x0=xticks, y0=[y1] * len(xticks), x1=xticks, y1=[y1 - 6 * dy] * len(xticks),
              line_color=BOX, line_width=1.5)
    yt = yticks[i]
    p.segment(x0=[XMAX] * len(yt), y0=yt, x1=[XMAX - 6 * DX] * len(yt), y1=yt,
              line_color=BOX, line_width=1.5)

    p.line(t, data_series[i], line_color=GREY, line_width=7, line_join="round", line_cap="round")
    p.line(t, model_series[i], line_color=RED, line_width=7, line_join="round", line_cap="round")
    p.segment(x0=[marker_t[i]], y0=[0.45 * y0], x1=[marker_t[i]], y1=[0.46 * y1],
              line_color=BLUE, line_width=8)

    add_label(p, 2.5, y1 - 0.322 * yr, phases[i], SANS, "31px")
    add_label(p, 108, y1 - 0.238 * yr, stations[i], SANS, "31px")
    add_label(p, 1.5, y1 - 0.84 * yr, "SNR=" + snr[i], SERIF, "26px")
    add_label(p, 108, y1 - 0.85 * yr, f"{azimuth[i]}\u00b0, {takeoff[i]}\u00b0", SERIF, "32px")

    add_label(p, XMIN + 5 * DX, y1 + 8 * dy, "\u00d7", SANS, "30px", "#404040")
    add_label(p, XMIN + 32 * DX, y1 + 8 * dy, "10", SANS, "30px", "#404040")
    add_label(p, XMIN + 76 * DX, y1 + 23 * dy, str(exponents[i]), SANS, "25px", "#404040")
    return p


def make_legend():
    fw = BW + RIGHT[4]
    h = TEXR[6] + BH + BOTTOM[6]
    p = figure(width=LEFT[4] + fw, height=h, x_range=Range1d(0, fw), y_range=Range1d(0, h),
               x_axis_location=None, y_axis_location=None,
               output_backend="svg", toolbar_location=None, tools="",
               min_border_left=LEFT[4], min_border_right=0, min_border_top=0, min_border_bottom=0)
    p.grid.visible = False
    p.outline_line_color = None
    tops = [60, 90, 120, 150, 180, 213]
    for k, line in enumerate(legend_lines):
        x = 45 if k == 4 else 5
        add_label(p, x, h - tops[k], line, SANS, "29px")
    return p


figs = [make_panel(i) for i in range(33)]
rows = [figs[k * 5:(k + 1) * 5] for k in range(6)]
rows.append(figs[30:33] + [None, make_legend()])
grid = gridplot(rows, toolbar_location=None)

open("out.html", "w").write(file_html(grid, INLINE))
